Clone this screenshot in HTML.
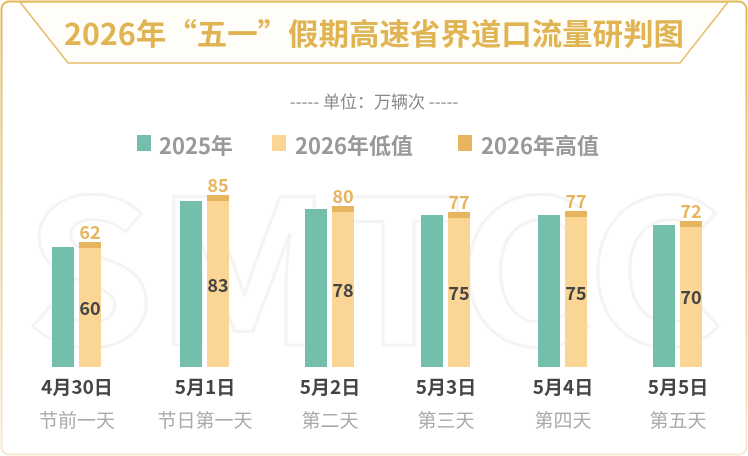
<!DOCTYPE html>
<html><head><meta charset="utf-8"><style>
html,body{margin:0;padding:0;background:#fff;}
svg{display:block;font-family:"Noto Sans CJK SC","Liberation Sans",sans-serif;}
</style></head><body>
<svg width="748" height="456" viewBox="0 0 748 456" xmlns="http://www.w3.org/2000/svg">
<defs>
<linearGradient id="lg" x1="0" y1="0" x2="0" y2="1"><stop offset="0" stop-color="#e2b955"/><stop offset="0.6" stop-color="#edd49a"/><stop offset="1" stop-color="#f6ead0"/></linearGradient>
</defs>
<rect x="1.5" y="1.5" width="745" height="453" rx="8" fill="#fff" stroke="url(#lg)" stroke-width="2"/>
<polygon points="20,2 68,63 680,63 728,2" fill="#fffdf8" stroke="#e2bd6a" stroke-width="1.5"/>
<text x="374" y="45" text-anchor="middle" font-size="30" font-weight="bold" fill="#e0b452" textLength="620" lengthAdjust="spacingAndGlyphs">2026年“五一”假期高速省界道口流量研判图</text>
<text x="374" y="345" text-anchor="middle" font-size="200" font-weight="bold" fill="none" stroke="#f4f4f4" stroke-width="3" textLength="700" lengthAdjust="spacingAndGlyphs">SMTCC</text>
<text x="374" y="108" text-anchor="middle" font-size="17" fill="#888">----- 单位：万辆次 -----</text>
<rect x="137" y="135" width="14" height="16" fill="#74bfab"/>
<text x="159" y="154" font-size="22" font-weight="bold" fill="#999">2025年</text>
<rect x="272" y="135" width="14" height="16" fill="#fad594"/>
<text x="295" y="154" font-size="22" font-weight="bold" fill="#999">2026年低值</text>
<rect x="458" y="135" width="14" height="16" fill="#e6b55d"/>
<text x="481" y="154" font-size="22" font-weight="bold" fill="#999">2026年高值</text>
<g font-size="18" font-weight="bold">
<rect x="52" y="247" width="22" height="120" fill="#74bfab"/>
<rect x="79" y="242" width="22" height="6" fill="#e6b55d"/>
<rect x="79" y="248" width="22" height="119" fill="#fad594"/>
<text x="90" y="315" text-anchor="middle" fill="#444">60</text>
<text x="90" y="239" text-anchor="middle" fill="#e6b55d">62</text>
<rect x="180" y="201" width="22" height="166" fill="#74bfab"/>
<rect x="207" y="195" width="22" height="6" fill="#e6b55d"/>
<rect x="207" y="201" width="22" height="166" fill="#fad594"/>
<text x="218" y="292" text-anchor="middle" fill="#444">83</text>
<text x="218" y="192" text-anchor="middle" fill="#e6b55d">85</text>
<rect x="305" y="209" width="22" height="158" fill="#74bfab"/>
<rect x="332" y="206" width="22" height="6" fill="#e6b55d"/>
<rect x="332" y="212" width="22" height="155" fill="#fad594"/>
<text x="343" y="297" text-anchor="middle" fill="#444">78</text>
<text x="343" y="203" text-anchor="middle" fill="#e6b55d">80</text>
<rect x="421" y="215" width="22" height="152" fill="#74bfab"/>
<rect x="448" y="212" width="22" height="6" fill="#e6b55d"/>
<rect x="448" y="218" width="22" height="149" fill="#fad594"/>
<text x="459" y="300" text-anchor="middle" fill="#444">75</text>
<text x="459" y="209" text-anchor="middle" fill="#e6b55d">77</text>
<rect x="538" y="215" width="22" height="152" fill="#74bfab"/>
<rect x="565" y="211" width="22" height="6" fill="#e6b55d"/>
<rect x="565" y="217" width="22" height="150" fill="#fad594"/>
<text x="576" y="300" text-anchor="middle" fill="#444">75</text>
<text x="576" y="208" text-anchor="middle" fill="#e6b55d">77</text>
<rect x="653" y="225" width="22" height="142" fill="#74bfab"/>
<rect x="680" y="221" width="22" height="6" fill="#e6b55d"/>
<rect x="680" y="227" width="22" height="140" fill="#fad594"/>
<text x="691" y="304" text-anchor="middle" fill="#444">70</text>
<text x="691" y="218" text-anchor="middle" fill="#e6b55d">72</text>
</g>
<g font-size="19" font-weight="bold" fill="#444" text-anchor="middle">
<text x="77" y="394">4月30日</text>
<text x="205" y="394">5月1日</text>
<text x="330" y="394">5月2日</text>
<text x="446" y="394">5月3日</text>
<text x="563" y="394">5月4日</text>
<text x="678" y="394">5月5日</text>
</g>
<g font-size="19" fill="#aaa" text-anchor="middle">
<text x="77" y="427">节前一天</text>
<text x="205" y="427">节日第一天</text>
<text x="330" y="427">第二天</text>
<text x="446" y="427">第三天</text>
<text x="563" y="427">第四天</text>
<text x="678" y="427">第五天</text>
</g>
</svg>
</body></html>
